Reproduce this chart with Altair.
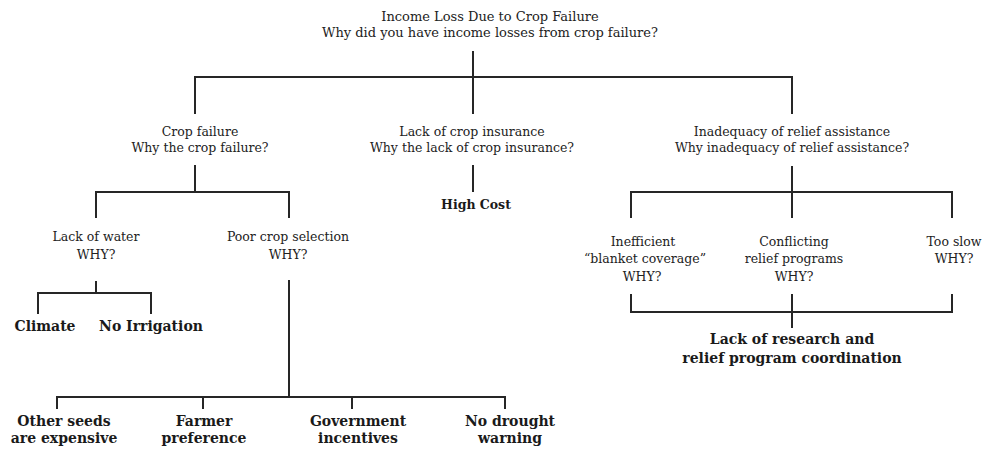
import altair as alt
import pandas as pd

# ---- text nodes (one row per printed line) ----
title_text = ["Income Loss Due to Crop Failure", "Why did you have income losses from crop failure?"]
title_x = [490, 490]
title_y = [17, 33]

norm_text = ["Crop failure", "Why the crop failure?",
             "Lack of crop insurance", "Why the lack of crop insurance?",
             "Inadequacy of relief assistance", "Why inadequacy of relief assistance?",
             "Lack of water", "WHY?",
             "Poor crop selection", "WHY?",
             "Inefficient", "\u201cblanket coverage\u201d", "WHY?",
             "Conflicting", "relief programs", "WHY?",
             "Too slow", "WHY?"]
norm_x = [200, 200, 472, 472, 792, 792, 96, 96, 288, 288,
          643, 645, 642, 794, 794, 794, 954, 954]
norm_y = [132, 148, 132, 148, 132, 148, 237, 255, 237, 255,
          242, 259, 277, 242, 259, 277, 242, 259]

small_bold_text = ["High Cost"]
small_bold_x = [476]
small_bold_y = [205]

bold_text = ["Climate", "No Irrigation",
             "Lack of research and", "relief program coordination",
             "Other seeds", "are expensive", "Farmer", "preference",
             "Government", "incentives", "No drought", "warning"]
bold_x = [45, 151, 792, 792, 64, 64, 204, 204, 358, 358, 510, 510]
bold_y = [327, 327, 340, 359, 422, 439, 422, 439, 422, 439, 422, 439]

# ---- connectors: (parent x, stem top, bar y, child xs, child bottom) ----
brk_parent_x = [473, 195, 473, 792, 96, 289]
brk_stem_top = [52, 166, 166, 167, 282, 281]
brk_bar_y = [77, 192, 191, 192, 293, 397]
brk_children = [[195, 473, 792], [96, 289], [473], [631, 792, 952], [38, 151], [57, 203, 352, 505]]
brk_child_bottom = [113, 217, 191, 217, 313, 408]

# converging bracket (children -> common cause)
conv_children = [631, 792, 952]
conv_top = 295
conv_bar_y = 312
conv_out_x = 792
conv_out_bottom = 327

segs = []
for px, st, by, ch, cb in zip(brk_parent_x, brk_stem_top, brk_bar_y, brk_children, brk_child_bottom):
    segs.append(dict(x=px, y=st, x2=px, y2=by))
    if len(ch) > 1:
        segs.append(dict(x=min(ch), y=by, x2=max(ch), y2=by))
    for c in ch:
        segs.append(dict(x=c, y=by, x2=c, y2=cb))
for c in conv_children:
    segs.append(dict(x=c, y=conv_top, x2=c, y2=conv_bar_y))
segs.append(dict(x=min(conv_children), y=conv_bar_y, x2=max(conv_children), y2=conv_bar_y))
segs.append(dict(x=conv_out_x, y=conv_bar_y, x2=conv_out_x, y2=conv_out_bottom))
seg_df = pd.DataFrame(segs)

title_df = pd.DataFrame(dict(t=title_text, x=title_x, y=title_y))
norm_df = pd.DataFrame(dict(t=norm_text, x=norm_x, y=norm_y))
sbold_df = pd.DataFrame(dict(t=small_bold_text, x=small_bold_x, y=small_bold_y))
bold_df = pd.DataFrame(dict(t=bold_text, x=bold_x, y=bold_y))

W, H = 974, 439
xs = alt.Scale(domain=[8, 8 + W], nice=False, zero=False)
ys = alt.Scale(domain=[8, 8 + H], nice=False, zero=False, reverse=True)
X = lambda f: alt.X(f, type="quantitative", scale=xs, axis=None)
Y = lambda f: alt.Y(f, type="quantitative", scale=ys, axis=None)

lines = alt.Chart(seg_df).mark_rule(color="#262626", strokeWidth=2, strokeCap="square").encode(
    x=X("x"), y=Y("y"), x2="x2", y2="y2")

ttext = alt.Chart(title_df).mark_text(font="DejaVu Serif", fontSize=13, color="#222222",
                                      align="center", baseline="middle").encode(
    x=X("x"), y=Y("y"), text="t")
ntext = alt.Chart(norm_df).mark_text(font="DejaVu Serif", fontSize=12.5, color="#222222",
                                     align="center", baseline="middle").encode(
    x=X("x"), y=Y("y"), text="t")
sbtext = alt.Chart(sbold_df).mark_text(font="DejaVu Serif", fontSize=12.5, fontWeight="bold",
                                       color="#1a1a1a", align="center", baseline="middle").encode(
    x=X("x"), y=Y("y"), text="t")
btext = alt.Chart(bold_df).mark_text(font="DejaVu Serif", fontSize=14, fontWeight="bold",
                                     color="#1a1a1a", align="center", baseline="middle").encode(
    x=X("x"), y=Y("y"), text="t")

chart = alt.layer(lines, ttext, ntext, sbtext, btext).properties(
    width=W, height=H, padding=0, autosize=alt.AutoSizeParams(type="none"),
    background="white"
).configure_view(stroke=None)

chart.save("out.html", embed_options={"renderer": "svg", "actions": False})
